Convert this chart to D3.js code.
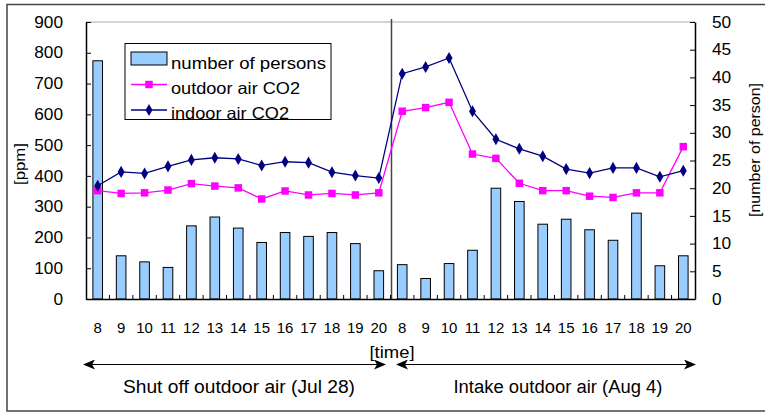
<!DOCTYPE html>
<html>
<head>
<meta charset="utf-8">
<script src="https://cdn.jsdelivr.net/npm/d3@7/dist/d3.min.js"></script>
<style>
  html, body { margin: 0; padding: 0; background: #fff; }
  svg { display: block; }
  text { font-family: "Liberation Sans", Arial, sans-serif; fill: #000; }
</style>
</head>
<body>
<svg id="chart" width="765" height="413"></svg>
<script>
// ---- data ----
const hours = ["8","9","10","11","12","13","14","15","16","17","18","19","20",
               "8","9","10","11","12","13","14","15","16","17","18","19","20"];
const persons = [43.0, 7.8, 6.7, 5.7, 13.2, 14.8, 12.8, 10.2, 12.0, 11.3, 12.0, 10.0, 5.1,
                 6.2, 3.7, 6.4, 8.8, 20.0, 17.6, 13.5, 14.4, 12.5, 10.6, 15.5, 6.0, 7.8];
const outdoorCO2 = [352, 343, 345, 354, 375, 367, 361, 325, 351, 338, 343, 338, 345,
                    610, 622, 639, 471, 457, 376, 352, 352, 334, 330, 345, 345, 495];
const indoorCO2 = [368, 413, 408, 431, 452, 459, 455, 434, 446, 443, 412, 401, 393,
                   732, 754, 783, 610, 519, 488, 464, 422, 409, 426, 426, 397, 417];
const ppmTicks = [0, 100, 200, 300, 400, 500, 600, 700, 800, 900];
const personTicks = [0, 5, 10, 15, 20, 25, 30, 35, 40, 45, 50];
const legendLabels = ["number of persons", "outdoor air CO2", "indoor air CO2"];
const periodLabels = ["Shut off outdoor air (Jul 28)", "Intake outdoor air (Aug 4)"];

// ---- layout ----
const svg = d3.select("#chart");
const L = 86, R = 695, T = 22, B = 299;
const idx = d3.range(hours.length);

const x = d3.scaleBand().domain(idx).range([L, R]).padding(0);
const yL = d3.scaleLinear().domain([0, 900]).range([B, T]);
const yR = d3.scaleLinear().domain([0, 50]).range([B, T]);
const cx = i => x(i) + x.bandwidth() / 2;
const barW = x.bandwidth() * 0.41;

// outer frame
svg.append("rect").attr("x", 7).attr("y", 4.5).attr("width", 770).attr("height", 406.5)
  .attr("fill", "none").attr("stroke", "#444").attr("stroke-width", 1.5);

// plot top border (gray)
svg.append("line").attr("x1", L).attr("x2", R).attr("y1", T).attr("y2", T)
  .attr("stroke", "#aaa").attr("stroke-width", 1);

// bars
svg.append("g").selectAll("rect").data(persons).join("rect")
  .attr("x", (d, i) => cx(i) - barW / 2)
  .attr("y", d => yR(d))
  .attr("width", barW)
  .attr("height", d => B - yR(d))
  .attr("fill", "#99CCFF")
  .attr("stroke", "#000").attr("stroke-width", 1);

// separator line
const sepX = (x(12) + x(13) + x.bandwidth()) / 2 + 1;
svg.append("line").attr("x1", sepX).attr("x2", sepX)
  .attr("y1", 19).attr("y2", B)
  .attr("stroke", "#444").attr("stroke-width", 1.5);

// lines
const lineL = d3.line().x((d, i) => cx(i)).y(d => yL(d));
svg.append("path").datum(outdoorCO2).attr("d", lineL)
  .attr("fill", "none").attr("stroke", "#FF00FF").attr("stroke-width", 1.3);
svg.append("path").datum(indoorCO2).attr("d", lineL)
  .attr("fill", "none").attr("stroke", "#000080").attr("stroke-width", 1.3);

const sq = d3.symbol().type(d3.symbolSquare).size(56);
const dm = d3.symbol().type(d3.symbolDiamond).size(42);
svg.append("g").selectAll("path").data(outdoorCO2).join("path")
  .attr("d", sq).attr("transform", (d, i) => `translate(${cx(i)},${yL(d)})`)
  .attr("fill", "#FF00FF");
svg.append("g").selectAll("path").data(indoorCO2).join("path")
  .attr("d", dm).attr("transform", (d, i) => `translate(${cx(i)},${yL(d)})`)
  .attr("fill", "#000080");

// axes
const axL = svg.append("g").attr("transform", `translate(${L},0)`)
  .call(d3.axisLeft(yL).tickValues(ppmTicks).tickSizeInner(-5).tickSizeOuter(0));
const axR = svg.append("g").attr("transform", `translate(${R},0)`)
  .call(d3.axisRight(yR).tickValues(personTicks).tickSizeInner(-5).tickSizeOuter(0));
[axL, axR].forEach(a => {
  a.select(".domain").attr("stroke", "#000").attr("stroke-width", 1.5);
  a.selectAll(".tick line").attr("stroke", "#000");
  a.selectAll(".tick text").attr("font-size", 16).attr("font-family", "Liberation Sans, Arial")
    .attr("textLength", function () { return this.textContent.length * 9.6; })
    .attr("lengthAdjust", "spacingAndGlyphs");
});
axL.selectAll(".tick text").attr("x", -23).attr("text-anchor", "end");
axR.selectAll(".tick text").attr("x", 17).attr("text-anchor", "start");

const axB = svg.append("g").attr("transform", `translate(0,${B})`)
  .call(d3.axisBottom(x).tickValues([]).tickSizeOuter(0));
axB.select(".domain").attr("stroke", "#000").attr("stroke-width", 1.5);
// inside category boundary ticks
svg.append("g").selectAll("line").data(d3.range(1, hours.length)).join("line")
  .attr("x1", i => x(i)).attr("x2", i => x(i)).attr("y1", B).attr("y2", B - 4)
  .attr("stroke", "#000");

// x tick labels
svg.append("g").selectAll("text").data(hours).join("text")
  .attr("x", (d, i) => cx(i)).attr("y", 332.5)
  .attr("text-anchor", "middle").attr("font-size", 15)
  .text(d => d);

// axis titles
svg.append("text").attr("x", 392).attr("y", 358)
  .attr("text-anchor", "middle").attr("font-size", 17)
  .attr("textLength", 45).attr("lengthAdjust", "spacingAndGlyphs").text("[time]");
svg.append("text").attr("transform", "translate(25,164) rotate(-90)")
  .attr("text-anchor", "middle").attr("font-size", 15)
  .attr("textLength", 42).attr("lengthAdjust", "spacingAndGlyphs").text("[ppm]");
svg.append("text").attr("transform", "translate(760,150) rotate(-90)")
  .attr("text-anchor", "middle").attr("font-size", 15)
  .attr("textLength", 134).attr("lengthAdjust", "spacingAndGlyphs").text("[number of person]");

// legend
const lg = svg.append("g");
const lx = 125, ly = 43.5;
lg.append("rect").attr("x", lx + 6).attr("y", 52).attr("width", 36).attr("height", 13)
  .attr("fill", "#99CCFF").attr("stroke", "#000");
lg.append("line").attr("x1", lx + 6).attr("x2", lx + 42).attr("y1", 84.5).attr("y2", 84.5)
  .attr("stroke", "#FF00FF").attr("stroke-width", 1.3);
lg.append("path").attr("d", sq).attr("transform", `translate(${lx + 24},84.5)`).attr("fill", "#FF00FF");
lg.append("line").attr("x1", lx + 6).attr("x2", lx + 42).attr("y1", 110).attr("y2", 110)
  .attr("stroke", "#000080").attr("stroke-width", 1.3);
lg.append("path").attr("d", dm).attr("transform", `translate(${lx + 24},110)`).attr("fill", "#000080");
[69, 94, 119].forEach((yy, k) => {
  lg.append("text").attr("x", lx + 46).attr("y", yy).attr("font-size", 16.5)
    .attr("textLength", [155, 129, 118][k]).attr("lengthAdjust", "spacingAndGlyphs")
    .text(legendLabels[k]);
});
lg.append("rect").attr("x", lx).attr("y", ly).attr("width", 206).attr("height", 76)
  .attr("fill", "none").attr("stroke", "#000").attr("stroke-width", 1);

// period arrows
const defs = svg.append("defs");
defs.append("marker").attr("id", "ah").attr("viewBox", "0 0 12 10")
  .attr("refX", 11).attr("refY", 5).attr("markerWidth", 12).attr("markerHeight", 10)
  .attr("markerUnits", "userSpaceOnUse").attr("orient", "auto-start-reverse")
  .append("path").attr("d", "M0,0 L12,5 L0,10 L3,5 Z").attr("fill", "#000");
[[84, 385], [397, 695]].forEach(([a, b]) => {
  svg.append("line").attr("x1", a).attr("x2", b).attr("y1", 364.5).attr("y2", 364.5)
    .attr("stroke", "#000").attr("stroke-width", 1.2)
    .attr("marker-start", "url(#ah)").attr("marker-end", "url(#ah)");
});
svg.append("text").attr("x", 239).attr("y", 393)
  .attr("text-anchor", "middle").attr("font-size", 18)
  .attr("textLength", 232).attr("lengthAdjust", "spacingAndGlyphs").text(periodLabels[0]);
svg.append("text").attr("x", 558).attr("y", 393)
  .attr("text-anchor", "middle").attr("font-size", 18)
  .attr("textLength", 209).attr("lengthAdjust", "spacingAndGlyphs").text(periodLabels[1]);
</script>
</body>
</html>
